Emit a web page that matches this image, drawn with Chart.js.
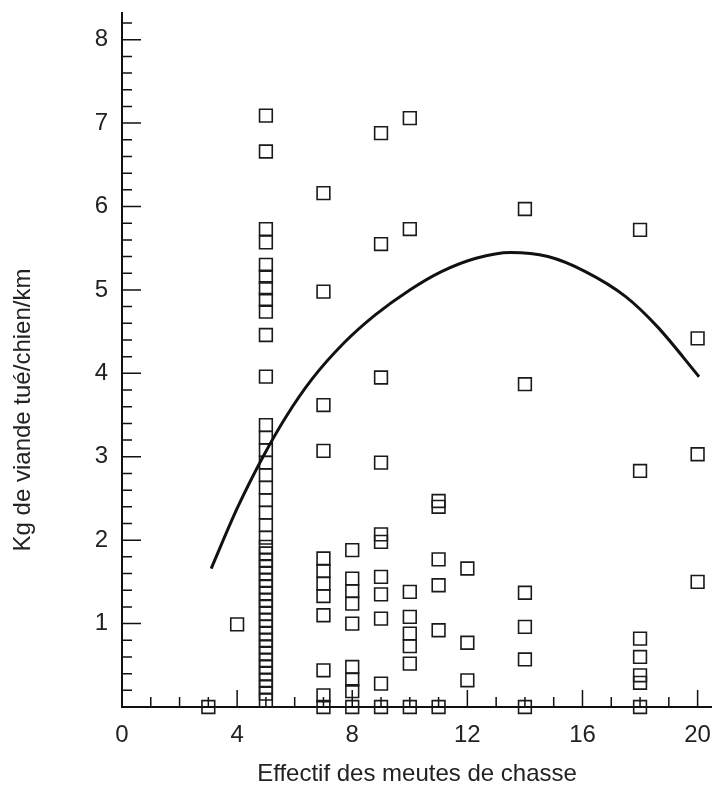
<!DOCTYPE html>
<html>
<head>
<meta charset="utf-8">
<script src="https://cdn.jsdelivr.net/npm/chart.js@4.4.1/dist/chart.umd.min.js"></script>
<style>
  html, body { margin: 0; padding: 0; background: #fff; }
  #wrap { width: 712px; height: 792px; }
</style>
</head>
<body>
<div id="wrap"><canvas id="chart"></canvas></div>
<script>
// pack sizes (x) and kg of meat per dog per km (y)
const packSizes = [3, 4, 5, 7, 8, 9, 10, 11, 12, 14, 18, 20];
const kgPerPack = [
  [0.0],
  [0.99],
  [7.09, 6.66, 5.73, 5.57, 5.30, 5.16, 5.02, 4.88, 4.74, 4.46, 3.96,
   3.38, 3.23, 3.08, 2.93, 2.78, 2.63, 2.48, 2.33, 2.18, 2.03,
   1.92, 1.84, 1.76, 1.68, 1.60, 1.52, 1.44, 1.36, 1.28, 1.20, 1.12, 1.04,
   0.96, 0.88, 0.80, 0.72, 0.64, 0.56, 0.48, 0.40, 0.32, 0.24, 0.16, 0.08],
  [6.16, 4.98, 3.62, 3.07, 1.78, 1.63, 1.48, 1.33, 1.10, 0.44, 0.14, 0.0],
  [1.88, 1.54, 1.39, 1.24, 1.00, 0.48, 0.33, 0.19, 0.0],
  [6.88, 5.55, 3.95, 2.93, 2.07, 1.98, 1.56, 1.35, 1.06, 0.28, 0.0],
  [7.06, 5.73, 1.38, 1.08, 0.88, 0.73, 0.52, 0.0],
  [2.47, 2.40, 1.77, 1.46, 0.92, 0.0],
  [1.66, 0.77, 0.32],
  [5.97, 3.87, 1.37, 0.96, 0.57, 0.0],
  [5.72, 2.83, 0.82, 0.60, 0.38, 0.29, 0.0],
  [4.42, 3.03, 1.50]
];

// fitted curve
const curveX = [3.1, 4.0, 4.9, 5.7, 6.6, 7.7, 8.8, 10.0, 11.1, 12.3, 13.5, 14.8, 16.1, 17.5, 18.6, 20.05];
const curveY = [1.66, 2.38, 3.00, 3.48, 3.93, 4.36, 4.70, 5.00, 5.22, 5.38, 5.45, 5.40, 5.22, 4.92, 4.56, 3.96];

const xTickLabels = ['0', '4', '8', '12', '16', '20'];
const yTickLabels = ['1', '2', '3', '4', '5', '6', '7', '8'];

const FONT = "'Liberation Sans', Arial, Helvetica, sans-serif";
const INK = '#111';

const points = packSizes.flatMap((x, i) => kgPerPack[i].map(y => ({ x: x, y: y })));
const curve = curveX.map((x, i) => ({ x: x, y: curveY[i] }));

const isWhole = v => Math.abs(v - Math.round(v)) < 1e-6;

// ticks pointing into the plot, long on labelled values
const innerTicks = {
  id: 'innerTicks',
  beforeDatasetsDraw(chart) {
    const { ctx, chartArea, scales } = chart;
    ctx.save();
    ctx.strokeStyle = INK;
    ctx.lineWidth = 1.5;
    ctx.beginPath();
    scales.x.ticks.forEach(t => {
      if (t.value <= 0 || !isWhole(t.value)) return;
      const px = scales.x.getPixelForValue(t.value);
      const len = xTickLabels.includes(String(Math.round(t.value))) ? 17 : 10;
      ctx.moveTo(px, chartArea.bottom);
      ctx.lineTo(px, chartArea.bottom - len);
    });
    scales.y.ticks.forEach(t => {
      if (t.value <= 0 || !isWhole(t.value * 5)) return;
      const py = scales.y.getPixelForValue(t.value);
      const len = isWhole(t.value) ? 19 : 10;
      ctx.moveTo(chartArea.left, py);
      ctx.lineTo(chartArea.left + len, py);
    });
    ctx.stroke();
    ctx.restore();
  }
};

new Chart(document.getElementById('chart'), {
  type: 'scatter',
  data: {
    datasets: [
      {
        type: 'line',
        data: curve,
        borderColor: INK,
        borderWidth: 3,
        pointRadius: 0,
        cubicInterpolationMode: 'monotone',
        fill: false
      },
      {
        data: points,
        pointStyle: 'rect',
        pointRadius: 9,
        pointBorderWidth: 1.6,
        pointBorderColor: '#1a1a1a',
        pointBackgroundColor: 'rgba(0,0,0,0)',
        clip: false
      }
    ]
  },
  options: {
    responsive: true,
    maintainAspectRatio: false,
    animation: false,
    devicePixelRatio: 1,
    layout: { autoPadding: false, padding: { top: 13, right: 0, left: 0, bottom: 0 } },
    plugins: { legend: { display: false }, tooltip: { enabled: false } },
    scales: {
      x: {
        type: 'linear',
        min: 0,
        max: 20.5,
        grid: { display: false, drawTicks: false },
        border: { display: true, color: INK, width: 2 },
        ticks: {
          stepSize: 1,
          autoSkip: false,
          maxRotation: 0,
          includeBounds: false,
          padding: 14,
          color: '#222',
          font: { family: FONT, size: 24 },
          callback: v => xTickLabels.includes(String(v)) ? String(v) : ''
        },
        title: {
          display: true,
          text: 'Effectif des meutes de chasse',
          color: '#222',
          font: { family: FONT, size: 24 },
          padding: { top: 0, bottom: 3 }
        },
        afterFit: s => {
          s.height = 85;
          s.paddingLeft = 0;
          s.paddingRight = 0;
        }
      },
      y: {
        type: 'linear',
        min: 0,
        max: 8.32,
        grid: { display: false, drawTicks: false },
        border: { display: true, color: INK, width: 2 },
        ticks: {
          stepSize: 0.2,
          autoSkip: false,
          includeBounds: false,
          padding: 14,
          color: '#222',
          font: { family: FONT, size: 24 },
          callback: v => {
            const r = Math.round(v);
            return isWhole(v) && yTickLabels.includes(String(r)) ? String(r) : '';
          }
        },
        title: {
          display: true,
          // trailing spaces push the centred title down, as in the figure
          text: 'Kg de viande tué/chien/km               ',
          color: '#222',
          font: { family: FONT, size: 24 },
          padding: { top: 9, bottom: 0 }
        },
        afterFit: s => {
          s.width = 122;
          s.paddingTop = 0;
          s.paddingBottom = 0;
        }
      }
    }
  },
  plugins: [innerTicks]
});
</script>
</body>
</html>
